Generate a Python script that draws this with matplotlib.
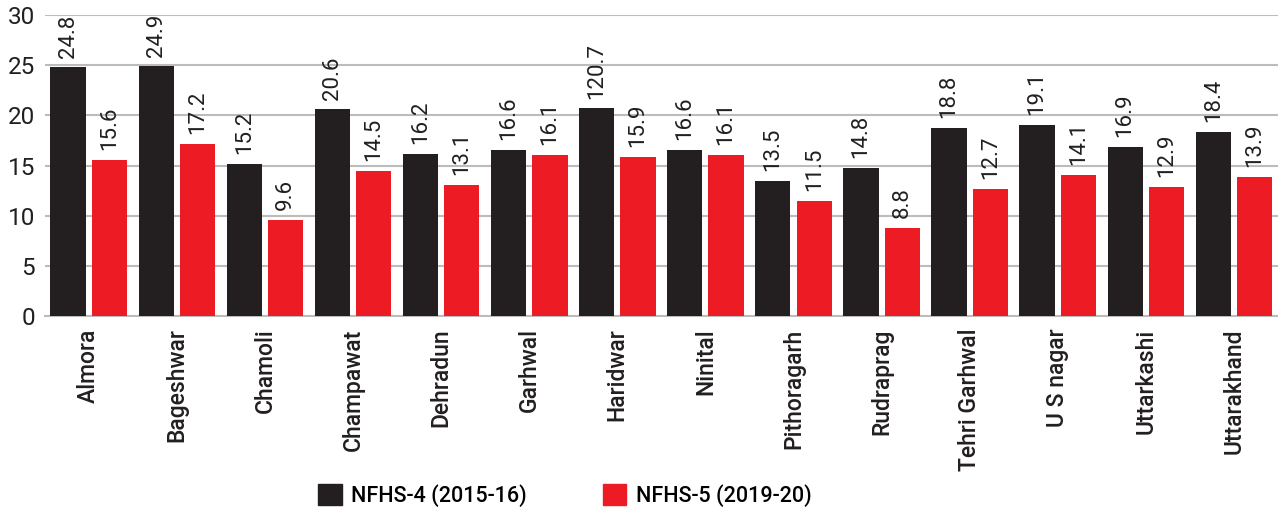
import matplotlib
matplotlib.use("Agg")
import matplotlib.pyplot as plt
import matplotlib.patches as mpatches
import numpy as np

districts = ["Almora", "Bageshwar", "Chamoli", "Champawat", "Dehradun", "Garhwal",
             "Haridwar", "Ninital", "Pithoragarh", "Rudraprag", "Tehri Garhwal",
             "U S nagar", "Uttarkashi", "Uttarakhand"]
nfhs4 = [24.8, 24.9, 15.2, 20.6, 16.2, 16.6, 20.7, 16.6, 13.5, 14.8, 18.8, 19.1, 16.9, 18.4]
nfhs5 = [15.6, 17.2, 9.6, 14.5, 13.1, 16.1, 15.9, 16.1, 11.5, 8.8, 12.7, 14.1, 12.9, 13.9]
# printed value labels (the Haridwar NFHS-4 label carries a stray leading "1" in print)
nfhs4_text = ["24.8", "24.9", "15.2", "20.6", "16.2", "16.6", "120.7", "16.6", "13.5",
              "14.8", "18.8", "19.1", "16.9", "18.4"]
nfhs5_text = [f"{v:.1f}" for v in nfhs5]
series_names = ["NFHS-4 (2015-16)", "NFHS-5 (2019-20)"]
yticks = [0, 5, 10, 15, 20, 25, 30]

BLACK = "#231f20"
RED = "#ed1c24"
GRID = "#bcbcbf"

plt.rcParams["font.family"] = ["Roboto", "DejaVu Sans"]

fig = plt.figure(figsize=(12.78, 5.08), dpi=100)
ax = fig.add_axes([0.035, 0.378, 0.965, 0.592])

x = np.arange(len(districts))
w = 0.40
off = 0.235
b1 = ax.bar(x - off, nfhs4, width=w, color=BLACK, zorder=3)
b2 = ax.bar(x + off, nfhs5, width=w, color=RED, zorder=3)

for bars, texts in ((b1, nfhs4_text), (b2, nfhs5_text)):
    for rect, t in zip(bars, texts):
        ax.annotate(t, (rect.get_x() + rect.get_width() / 2, rect.get_height()),
                    xytext=(0, 7), textcoords="offset points", rotation=90,
                    ha="center", va="bottom", fontsize=16, color=BLACK)

ax.set_xlim(-0.5, len(districts) - 0.5)
ax.set_ylim(0, 30)
ax.set_yticks(yticks)
ax.set_yticklabels([str(v) for v in yticks], fontsize=17.5, color=BLACK)
ax.set_xticks(x)
ax.set_xticklabels(districts, rotation=90, fontsize=16.5, color=BLACK, fontweight="medium")
ax.tick_params(axis="both", length=0)
ax.tick_params(axis="y", pad=7)
ax.tick_params(axis="x", pad=9)

ax.grid(axis="y", color=GRID, linewidth=1.5, zorder=0)
ax.set_axisbelow(True)
for s in ("top", "right", "left"):
    ax.spines[s].set_visible(False)
ax.spines["bottom"].set_color(GRID)
ax.spines["bottom"].set_linewidth(1.5)

handles = [mpatches.Patch(color=BLACK), mpatches.Patch(color=RED)]
fig.legend(handles, series_names, loc="center", bbox_to_anchor=(0.442, 0.025),
           ncol=2, frameon=False, handlelength=1.1, handleheight=1.1,
           handletextpad=0.45, columnspacing=3.5, prop={"weight": "medium", "size": 15.5})

fig.savefig("out.png", dpi=100)
